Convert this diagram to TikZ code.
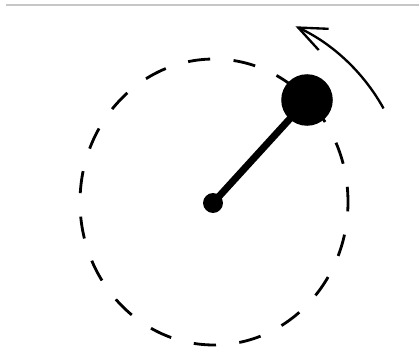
\documentclass[tikz,border=0pt]{standalone}
\usepackage{tikz}
\usetikzlibrary{arrows.meta}

\begin{document}
\begin{tikzpicture}[x=0.03cm,y=0.03cm,
  mass/.style={circle,fill=black,draw=none,inner sep=0pt},
  rod/.style={line width=6pt},
  orbit/.style={line width=2.4pt,dash pattern=on 19pt off 20pt,dash phase=6pt},
  swing/.style={line width=2pt,-{Straight Barb[length=24pt,width=20pt,line width=2pt]}}]
\useasboundingbox (0,0) rectangle (419,356);
\draw[gray!45,line width=1pt] (6,351) -- (419,351);
% path of the bob
\draw[orbit] (214,154) ellipse [x radius=134,y radius=143];
\node[mass,minimum size=17pt] (pivot) at (213,153) {};
\node[mass,minimum size=44pt] (bob) at (307,256) {};
\draw[rod] (pivot.center) -- (bob.center);
% direction of motion
\coordinate (swingstart) at ([shift={(29:195)}]pivot.center);
\draw[swing] (swingstart) arc[start angle=29,end angle=65,radius=195];
\end{tikzpicture}
\end{document}
